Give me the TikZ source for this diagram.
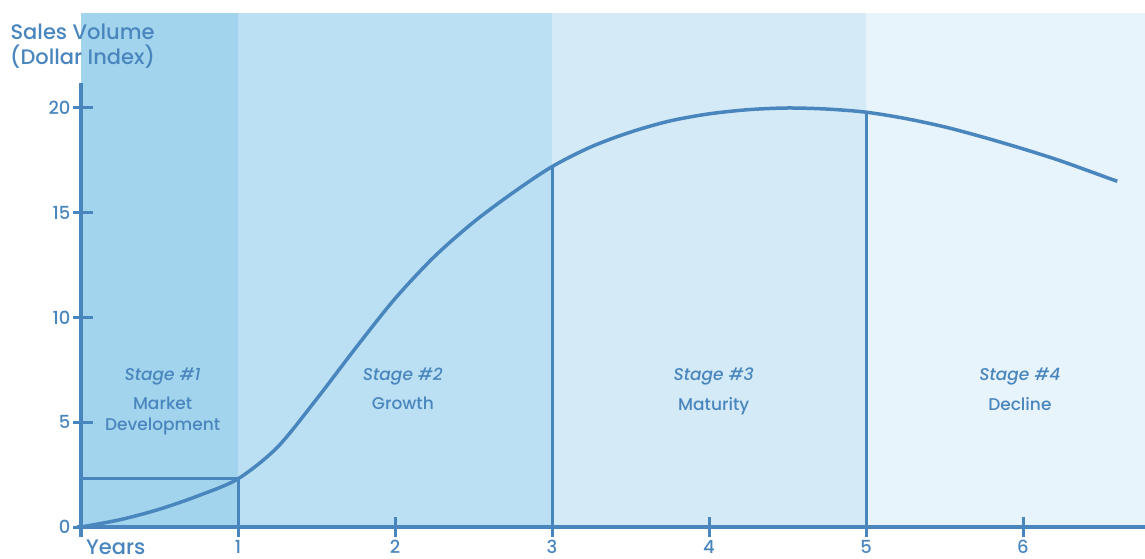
\documentclass[tikz,border=0pt]{standalone}
\usepackage{fontspec}
\setmainfont{Poppins Medium}[ItalicFont={Poppins Medium Italic}]
\definecolor{lineblue}{HTML}{4A86BE}
\definecolor{bandA}{HTML}{A3D4ED}
\definecolor{bandB}{HTML}{BBE0F3}
\definecolor{bandC}{HTML}{D4EAF6}
\definecolor{bandD}{HTML}{E8F4FB}
\begin{document}
\begin{tikzpicture}[x=157pt,y=20.95pt,
	axisline/.style={lineblue,line width=3.5pt},
	tickline/.style={lineblue,line width=3pt},
	ticklbl/.style={text=lineblue,inner sep=0pt,font=\fontsize{18}{20}\selectfont},
	stagelbl/.style={text=lineblue,font=\fontsize{17}{19}\selectfont\itshape},
	desclbl/.style={text=lineblue,align=center,font=\fontsize{17}{21}\selectfont}]
	\useasboundingbox (-81pt,-31pt) rectangle (1064pt,527pt);
	% stage bands
	\fill[bandA] (0,0) rectangle (1,24.53);
	\fill[bandB] (1,0) rectangle (3,24.53);
	\fill[bandC] (3,0) rectangle (5,24.53);
	\fill[bandD] (5,0) rectangle (1064pt,24.53);
	
	\node[text=lineblue,align=center,font=\fontsize{21}{25}\selectfont] (title) at (0.01,22.95) {Sales Volume\\(Dollar Index)};
	
	\foreach \x/\n/\desc in {0.52/1/{Market\\Development}, 2.05/2/Growth, 4.03/3/Maturity, 5.98/4/Decline} {
		\node[stagelbl] (stage\n) at (\x,7.20) {Stage \#\n};
		\node[desclbl,anchor=north] (desc\n) at (\x,6.37) {\desc};
	}
	
	% life cycle curve
	\draw[lineblue,line width=3.5pt] plot[smooth] coordinates {(0,0) (0.25,0.35) (0.5,0.85) (0.75,1.5) (1,2.3) (1.25,3.8) (1.5,6.1) (1.75,8.55) (2,10.9) (2.25,12.9) (2.5,14.55) (2.75,15.95) (3,17.2) (3.25,18.15) (3.5,18.85) (3.75,19.38) (4,19.72) (4.25,19.92) (4.5,20) (4.75,19.95) (5,19.8) (5.25,19.5) (5.5,19.1) (5.75,18.6) (6,18.05) (6.25,17.45) (6.6,16.5)};
	
	\draw[tickline] (0,2.3) -- (1,2.3) -- (1,-10pt);
	\draw[tickline] (3,17.2) -- (3,-10pt);
	\draw[tickline] (5,19.8) -- (5,-10pt);
	
	% axes
	\draw[axisline] (-4pt,0) -- (1064pt,0);
	\draw[axisline] (0,-10pt) -- (0,21.19);
	\foreach \y/\ytext in {0/0, 5/5, 10/10, 15/15, 20/20}
		\draw[tickline] (-8pt,\y) -- (12pt,\y) node[ticklbl,anchor=east,xshift=-21pt] (ylbl\y) {\ytext};
	\foreach \x in {2, 4, 6}
		\draw[tickline] (\x,10pt) -- (\x,-10pt);
	\foreach \x in {1, ..., 6}
		\node[ticklbl,anchor=north] (xlbl\x) at (\x,-13pt) {\x};
	\node[ticklbl,anchor=north west,font=\fontsize{21}{25}\selectfont] (years) at (5pt,-13pt) {Years};
\end{tikzpicture}
\end{document}
